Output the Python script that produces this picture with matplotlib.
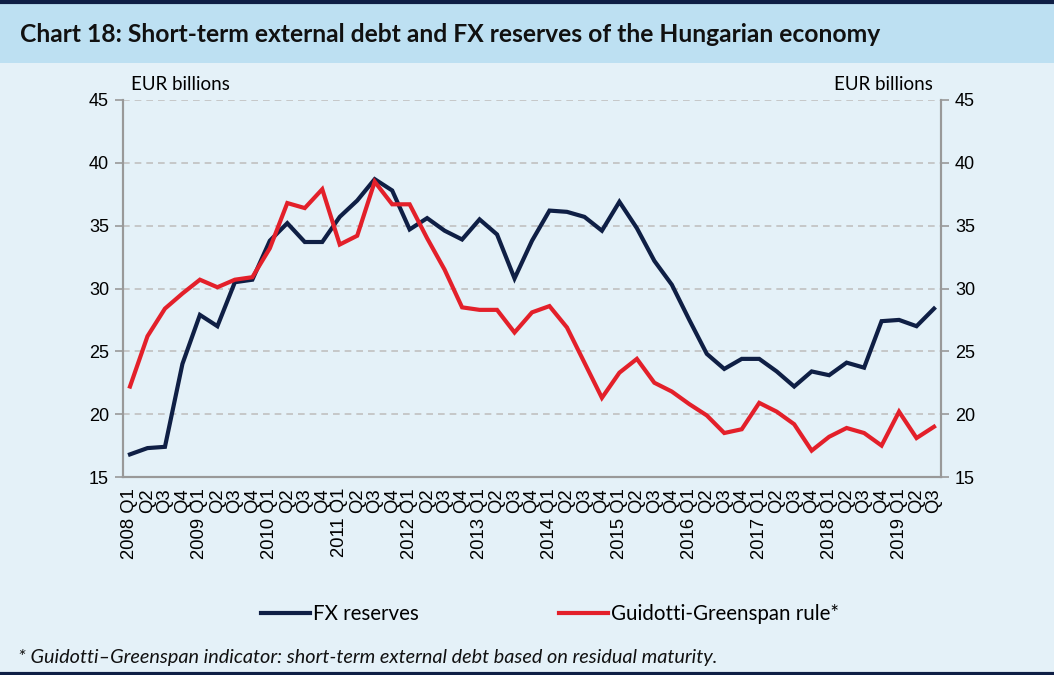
import matplotlib.pyplot as plt
from matplotlib.lines import Line2D
from matplotlib.patches import Rectangle

years = list(range(2008, 2020))
quarters = []
for y in years:
    for q in range(1, 5):
        if y == 2019 and q == 4:
            break
        quarters.append("%d Q1" % y if q == 1 else "Q%d" % q)

fx_reserves = [
    16.8, 17.3, 17.4, 24.0,
    27.9, 27.0, 30.5, 30.7,
    33.8, 35.2, 33.7, 33.7,
    35.7, 37.0, 38.7, 37.8,
    34.7, 35.6, 34.6, 33.9,
    35.5, 34.3, 30.8, 33.8,
    36.2, 36.1, 35.7, 34.6,
    36.9, 34.8, 32.2, 30.3,
    27.5, 24.8, 23.6, 24.4,
    24.4, 23.4, 22.2, 23.4,
    23.1, 24.1, 23.7, 27.4,
    27.5, 27.0, 28.4,
]
gg_rule = [
    22.2, 26.2, 28.4, 29.6,
    30.7, 30.1, 30.7, 30.9,
    33.2, 36.8, 36.4, 37.9,
    33.5, 34.2, 38.5, 36.7,
    36.7, 34.0, 31.5, 28.5,
    28.3, 28.3, 26.5, 28.1,
    28.6, 26.9, 24.1, 21.3,
    23.3, 24.4, 22.5, 21.8,
    20.8, 19.9, 18.5, 18.8,
    20.9, 20.2, 19.2, 17.1,
    18.2, 18.9, 18.5, 17.5,
    20.2, 18.1, 19.0,
]

navy = "#0f1f45"
red = "#e3202a"
bg = "#e4f1f8"
banner = "#bde0f2"
grey = "#999999"
tick_font = ["Liberation Sans", "DejaVu Sans"]

plt.rcParams["font.family"] = ["Lato", "DejaVu Sans"]

fig = plt.figure(figsize=(10.54, 6.75), dpi=100)
fig.patch.set_facecolor(bg)

# title banner and borders
fig.add_artist(Rectangle((0, 1 - 63 / 675), 1, 60 / 675, transform=fig.transFigure,
                         facecolor=banner, edgecolor="none"))
fig.add_artist(Line2D([0, 1], [1 - 1.5 / 675] * 2, transform=fig.transFigure,
                      color=navy, lw=3))
fig.add_artist(Line2D([0, 1], [1.5 / 675] * 2, transform=fig.transFigure,
                      color=navy, lw=3))
fig.text(20 / 1054, 1 - 35 / 675,
         "Chart 18: Short-term external debt and FX reserves of the Hungarian economy",
         fontsize=17.7, fontweight="bold", va="center", ha="left", color="#111111")

ax = fig.add_axes([123 / 1054, 1 - 477 / 675, (941 - 123) / 1054, (477 - 100) / 675])
ax.set_facecolor(bg)
x = list(range(len(quarters)))
l1, = ax.plot(x, fx_reserves, color=navy, lw=3, solid_joinstyle="miter")
l2, = ax.plot(x, gg_rule, color=red, lw=3, solid_joinstyle="miter")

ax.set_xlim(-0.4, len(quarters) - 0.6)
ax.set_ylim(15, 45)
ax.set_yticks(range(15, 50, 5))
ax.grid(axis="y", color="#c0c0c0", ls=(0, (4, 3)), lw=1.2)
ax.set_axisbelow(True)
ax.set_xticks(x)
ax.set_xticklabels(quarters, rotation=90, fontsize=13.3, va="top", ha="center",
                   family=tick_font)
ax.tick_params(axis="x", length=0, pad=8)
ax.tick_params(axis="y", labelsize=13, color=grey, length=6, width=1.2, pad=4)
for lab in ax.get_yticklabels():
    lab.set_family(tick_font)
ax.spines["top"].set_visible(False)
for s in ["left", "right", "bottom"]:
    ax.spines[s].set_color(grey)
    ax.spines[s].set_linewidth(1.5)

ax2 = ax.twinx()
ax2.set_ylim(15, 45)
ax2.set_yticks(range(15, 50, 5))
ax2.tick_params(axis="y", labelsize=13, color=grey, length=6, width=1.2, pad=4)
for lab in ax2.get_yticklabels():
    lab.set_family(tick_font)
ax2.spines["top"].set_visible(False)
for s in ["left", "right", "bottom"]:
    ax2.spines[s].set_color(grey)
    ax2.spines[s].set_linewidth(1.5)

fig.text(131 / 1054, 1 - 84 / 675, "EUR billions", fontsize=13.5, ha="left", va="center")
fig.text(933 / 1054, 1 - 84 / 675, "EUR billions", fontsize=13.5, ha="right", va="center")

fig.legend([l1, l2], ["FX reserves", "Guidotti-Greenspan rule*"],
           loc="center", bbox_to_anchor=(550 / 1054, 1 - 614 / 675), ncol=2,
           frameon=False, fontsize=14.8, handlelength=2.4, handletextpad=0.15,
           columnspacing=6.8)

fig.text(18 / 1054, 1 - 657 / 675,
         "* Guidotti\u2013Greenspan indicator: short-term external debt based on residual maturity.",
         fontsize=14.3, style="italic", ha="left", va="center", color="#111111")

fig.savefig("out.png", dpi=100, facecolor=bg)
